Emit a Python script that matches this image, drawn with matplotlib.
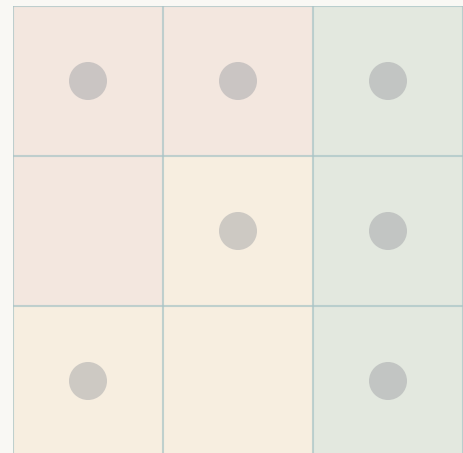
import matplotlib
matplotlib.use("Agg")
import matplotlib.pyplot as plt
from matplotlib.colors import ListedColormap
import numpy as np

rows = ["r0", "r1", "r2"]
cols = ["c0", "c1", "c2"]
# cell category: 0 = pink, 1 = cream, 2 = green
cell_category = [
    [0, 0, 2],
    [0, 1, 2],
    [1, 1, 2],
]
# dot presence per cell
dots = [
    [1, 1, 1],
    [0, 1, 1],
    [1, 0, 1],
]
palette = ["#F3E7DF", "#F7EEE0", "#E3E8DF"]

W, H = 463, 453
fig = plt.figure(figsize=(W / 100, H / 100), dpi=100, facecolor="#F9F8F4")
ax = fig.add_axes([13 / W, (H - 6 - 450) / H, 450 / W, 450 / H])
ax.set_facecolor("#F9F8F4")

cat = np.array(cell_category)
ax.pcolormesh(np.arange(4), np.arange(4), cat, cmap=ListedColormap(palette),
              vmin=-0.5, vmax=2.5, shading="flat")

dd = np.array(dots)
yy, xx = np.nonzero(dd)
ax.scatter(xx + 0.5, yy + 0.5, s=750, color="#9A9CA1", alpha=0.45,
           edgecolors="none", zorder=3)

for v in range(4):
    ax.axvline(v, color="#A8C4C6", lw=1.5, alpha=0.7, zorder=2)
    ax.axhline(v, color="#A8C4C6", lw=1.5, alpha=0.7, zorder=2)

ax.set_xlim(0, 3)
ax.set_ylim(3, 0)
ax.axis("off")
fig.savefig("out.png", dpi=100, facecolor=fig.get_facecolor())
